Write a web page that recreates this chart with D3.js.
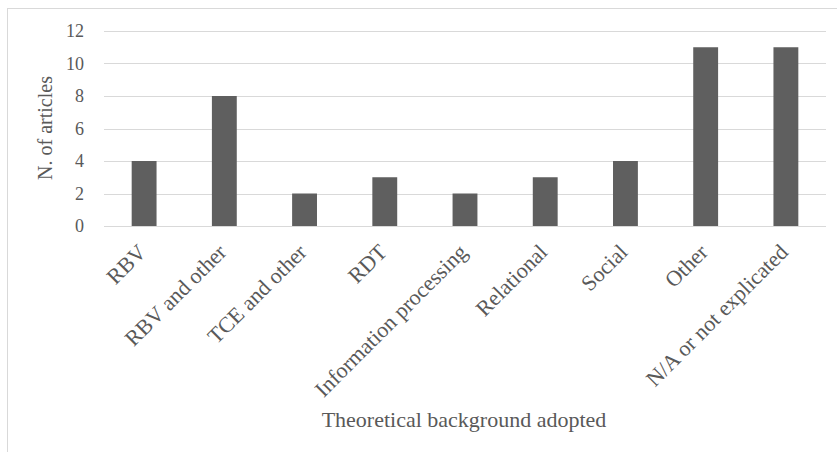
<!DOCTYPE html>
<html>
<head>
<meta charset="utf-8">
<script src="https://cdn.jsdelivr.net/npm/d3@7"></script>
<style>
  html, body { margin: 0; padding: 0; background: #fff; }
  svg { display: block; }
  text { font-family: "Liberation Serif", "Times New Roman", serif; fill: #595959; }
</style>
</head>
<body>
<svg id="chart" width="837" height="452"></svg>
<script>
const categories = ["RBV", "RBV and other", "TCE and other", "RDT", "Information processing", "Relational", "Social", "Other", "N/A or not explicated"];
const values = [4, 8, 2, 3, 2, 3, 4, 11, 11];
const yTicks = [0, 2, 4, 6, 8, 10, 12];
const yTitle = "N. of articles";
const xTitle = "Theoretical background adopted";

const svg = d3.select("#chart");
const W = 837, H = 452;

// chart border
svg.append("rect")
  .attr("x", 7.5).attr("y", 8.5)
  .attr("width", W + 10).attr("height", H + 10)
  .attr("fill", "#fff").attr("stroke", "#d9d9d9").attr("stroke-width", 1);

const x = d3.scaleBand().domain(categories).range([104, 826]).paddingInner(0.69).paddingOuter(0.345);
const y = d3.scaleLinear().domain([0, 12]).range([226, 31]);

// gridlines
svg.append("g").selectAll("line").data(yTicks).join("line")
  .attr("x1", 104).attr("x2", 826)
  .attr("y1", d => Math.round(y(d)) + 0.5).attr("y2", d => Math.round(y(d)) + 0.5)
  .attr("stroke", "#d9d9d9").attr("stroke-width", 1);

// bars
svg.append("g").selectAll("rect").data(values).join("rect")
  .attr("x", (d, i) => x(categories[i]))
  .attr("width", x.bandwidth())
  .attr("y", d => y(d))
  .attr("height", d => y(0) - y(d))
  .attr("fill", "#5f5f5f");

// y axis labels
const yAxis = d3.axisLeft(y).tickValues(yTicks).tickSize(0).tickPadding(0).tickFormat(d3.format("d"));
const gy = svg.append("g").attr("transform", "translate(84,0)").call(yAxis);
gy.select(".domain").remove();
gy.selectAll("text").attr("font-size", 18).attr("fill", "#595959");

// x axis labels
const xAxis = d3.axisBottom(x).tickSize(0).tickPadding(0);
const gx = svg.append("g").attr("transform", "translate(0,226)").call(xAxis);
gx.select(".domain").remove();
gx.selectAll("text")
  .attr("font-size", 22).attr("fill", "#595959")
  .attr("text-anchor", "end")
  .attr("dy", "0.35em").attr("y", 0)
  .attr("transform", "translate(-2,22) rotate(-45)");

// axis titles
svg.append("text")
  .attr("transform", "translate(45,128) rotate(-90)")
  .attr("text-anchor", "middle").attr("dy", "0.35em")
  .attr("font-size", 20)
  .text(yTitle);

svg.append("text")
  .attr("x", 464).attr("y", 427)
  .attr("text-anchor", "middle")
  .attr("font-size", 22)
  .text(xTitle);
</script>
</body>
</html>
